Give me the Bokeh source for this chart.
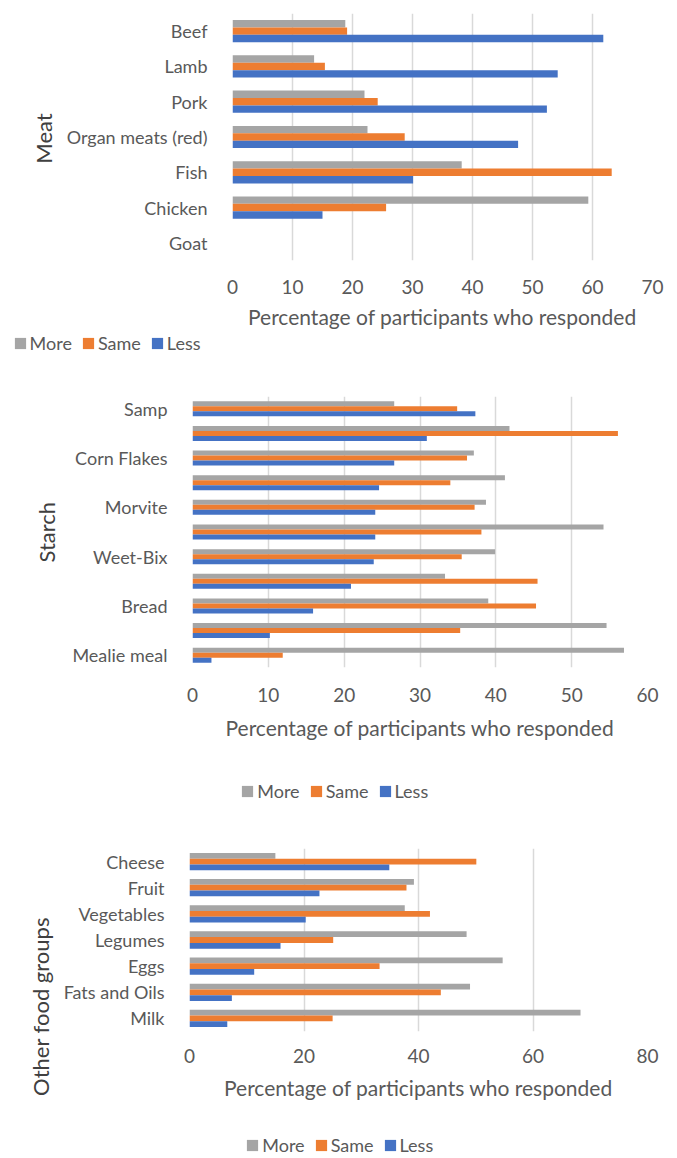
import math

from bokeh.embed import file_html
from bokeh.layouts import column, row
from bokeh.models import ColumnDataSource, FixedTicker, Label, Legend, LegendItem, Range1d
from bokeh.plotting import figure
from bokeh.resources import INLINE

# ---- data: percentage of participants reporting each change in intake ----
series_names = ["More", "Same", "Less"]

meat_items = ["Beef", "Lamb", "Pork", "Organ meats (red)", "Fish", "Chicken", "Goat"]
meat_more = [18.8, 13.6, 22.0, 22.5, 38.2, 59.3, 0.0]
meat_same = [19.1, 15.4, 24.2, 28.7, 63.2, 25.6, 0.0]
meat_less = [61.8, 54.2, 52.4, 47.6, 30.1, 15.0, 0.0]
meat_ticks = [0, 10, 20, 30, 40, 50, 60, 70]

# every other starch category carries no printed label on the axis
starch_labels = ["Samp", "", "Corn Flakes", "", "Morvite", "", "Weet-Bix", "", "Bread", "", "Mealie meal"]
starch_more = [26.6, 41.8, 37.1, 41.2, 38.7, 54.2, 39.9, 33.3, 39.0, 54.6, 56.9]
starch_same = [34.9, 56.1, 36.2, 34.0, 37.2, 38.1, 35.5, 45.5, 45.3, 35.3, 11.9]
starch_less = [37.3, 30.9, 26.6, 24.6, 24.1, 24.1, 23.9, 20.9, 15.9, 10.2, 2.5]
starch_ticks = [0, 10, 20, 30, 40, 50, 60]

other_items = ["Cheese", "Fruit", "Vegetables", "Legumes", "Eggs", "Fats and Oils", "Milk"]
other_more = [15.0, 39.2, 37.6, 48.4, 54.7, 49.0, 68.3]
other_same = [50.1, 37.9, 42.0, 25.1, 33.2, 43.9, 25.0]
other_less = [34.9, 22.7, 20.3, 15.9, 11.3, 7.4, 6.6]
other_ticks = [0, 20, 40, 60, 80]

x_title = "Percentage of participants who responded"

# ---- styling ----
FONT = "Lato"
TEXT = "#595959"
TITLE_TEXT = "#404040"
GRID = "#D9D9D9"
COLORS = {"More": "#A5A5A5", "Same": "#ED7D31", "Less": "#4472C4"}
PAGE_W = 677
SIDE_W = 60  # strip holding the rotated group title


def blank(width, height, x_range=(0, 1), y_range=(0, 1)):
    """A bare plot area (no axes, no borders) used for titles and legends."""
    p = figure(width=width, height=height, x_range=Range1d(*x_range), y_range=Range1d(*y_range),
               output_backend="svg", toolbar_location=None,
               x_axis_location=None, y_axis_location=None, min_border=0)
    p.frame_align = False
    p.grid.visible = False
    p.outline_line_color = None
    p.border_fill_color = "white"
    p.background_fill_color = "white"
    return p


def panel(labels, more, same, less, ticks, group_title, top_px, main_h, total_h,
          frame_top, frame_bottom, frame_left, frame_right, bar_h,
          tick_standoff, label_standoff, title_center, legend_left, legend_center):
    """Grouped horizontal bar chart plus its title strip and legend row.
    Geometry arguments are page pixels."""
    n = len(labels)
    pos = [n - 1 - i for i in range(n)]  # first item on top

    p = figure(
        width=PAGE_W - SIDE_W, height=main_h,
        x_range=Range1d(ticks[0], ticks[-1]),
        y_range=Range1d(-0.5, n - 0.5),
        output_backend="svg", toolbar_location=None,
        min_border_left=frame_left - SIDE_W,
        min_border_right=PAGE_W - frame_right,
        min_border_top=frame_top - top_px,
        min_border_bottom=top_px + main_h - frame_bottom,
    )
    p.frame_align = False
    p.outline_line_color = None
    p.background_fill_color = "white"
    p.border_fill_color = "white"

    sources = []
    for name, vals, off in zip(series_names, [more, same, less], [bar_h, 0.0, -bar_h]):
        src = ColumnDataSource(dict(y=[q + off for q in pos], right=vals))
        p.hbar(y="y", left=0, right="right", height=bar_h, source=src,
               fill_color=COLORS[name], line_color=None)
        sources.append(src)

    # x axis
    xt = FixedTicker(ticks=ticks)
    p.xaxis.ticker = xt
    p.xgrid.ticker = xt
    p.xgrid.grid_line_color = GRID
    p.xgrid.grid_line_width = 1.5
    p.ygrid.visible = False
    p.xaxis.axis_line_color = None
    p.xaxis.major_tick_line_color = None
    p.xaxis.minor_tick_line_color = None
    p.xaxis.major_label_text_font = FONT
    p.xaxis.major_label_text_font_size = "19px"
    p.xaxis.major_label_text_color = TEXT
    p.xaxis.major_label_standoff = tick_standoff
    p.xaxis.axis_label = x_title
    p.xaxis.axis_label_text_font = FONT
    p.xaxis.axis_label_text_font_size = "21px"
    p.xaxis.axis_label_text_font_style = "normal"
    p.xaxis.axis_label_text_color = TEXT
    p.xaxis.axis_label_standoff = label_standoff

    # y axis: category names
    shown = [i for i in range(n) if labels[i]]
    p.yaxis.ticker = FixedTicker(ticks=[pos[i] for i in shown])
    p.yaxis.major_label_overrides = {pos[i]: labels[i] for i in shown}
    p.yaxis.axis_line_color = None
    p.yaxis.major_tick_line_color = None
    p.yaxis.minor_tick_line_color = None
    p.yaxis.major_label_text_font = FONT
    p.yaxis.major_label_text_font_size = "18px"
    p.yaxis.major_label_text_color = TEXT
    p.yaxis.major_label_standoff = 19

    # rotated group title in its own strip
    side = blank(SIDE_W, main_h)
    tx, ty = title_center
    side.add_layout(Label(
        x=tx, y=top_px + main_h - ty, x_units="screen", y_units="screen",
        text=group_title, angle=math.pi / 2, text_align="center", text_baseline="middle",
        text_font=FONT, text_font_size="22px", text_color=TITLE_TEXT,
    ))

    # legend row below the chart; its hidden series only supply the swatches
    leg_h = total_h - main_h
    leg = blank(PAGE_W, leg_h, x_range=(-100, -99), y_range=(-100, -99))
    items = []
    for name, src in zip(series_names, sources):
        r = leg.hbar(y="y", left=0, right="right", height=bar_h, source=src,
                     fill_color=COLORS[name], line_color=None, visible=False)
        items.append(LegendItem(label=name, renderers=[r]))
    box_h = 20
    legend = Legend(
        items=items, orientation="horizontal",
        location=(legend_left - 1.4, top_px + total_h - legend_center - box_h / 2),
        padding=0, margin=0, spacing=9, label_standoff=3,
        glyph_width=14, glyph_height=14, label_height=box_h,
        label_text_font=FONT, label_text_font_size="18px", label_text_color=TEXT,
        label_text_baseline="middle",
        border_line_color=None, background_fill_alpha=0,
    )
    leg.add_layout(legend)

    return column(row(side, p, spacing=0), leg, spacing=0)


panel1 = panel(meat_items, meat_more, meat_same, meat_less, meat_ticks, "Meat",
               top_px=0, main_h=331, total_h=360, frame_top=13, frame_bottom=263,
               frame_left=232, frame_right=652, bar_h=0.21,
               tick_standoff=13, label_standoff=7,
               title_center=(43, 138), legend_left=14, legend_center=344)
panel2 = panel(starch_labels, starch_more, starch_same, starch_less, starch_ticks, "Starch",
               top_px=360, main_h=382, total_h=450, frame_top=396, frame_bottom=667,
               frame_left=192, frame_right=647, bar_h=0.203,
               tick_standoff=14, label_standoff=10,
               title_center=(45.5, 531.7), legend_left=241.7, legend_center=791.7)
panel3 = panel(other_items, other_more, other_same, other_less, other_ticks, "Other food groups",
               top_px=810, main_h=294, total_h=348, frame_top=848, frame_bottom=1031,
               frame_left=185, frame_right=647, bar_h=0.22,
               tick_standoff=11, label_standoff=9,
               title_center=(40, 1006), legend_left=246.7, legend_center=1145.5)

page = column(panel1, panel2, panel3, spacing=0)
open("out.html", "w").write(file_html(page, INLINE))
